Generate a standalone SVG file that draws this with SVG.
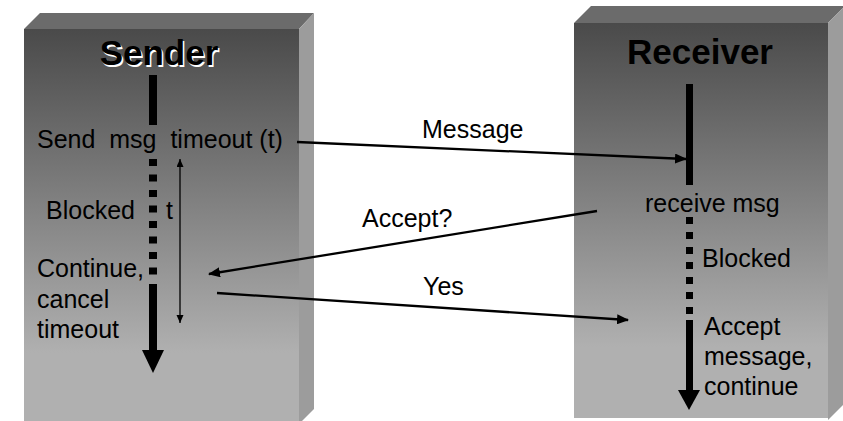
<svg xmlns="http://www.w3.org/2000/svg" width="843" height="421" viewBox="0 0 843 421">
  <defs>
    <linearGradient id="faceGrad" x1="0" y1="0" x2="0" y2="1">
      <stop offset="0" stop-color="#4a4a4a"/>
      <stop offset="0.82" stop-color="#b0b0b0"/>
      <stop offset="1" stop-color="#b0b0b0"/>
    </linearGradient>
    <marker id="head" markerUnits="userSpaceOnUse" markerWidth="12" markerHeight="10" refX="11" refY="5" orient="auto">
      <path d="M0,0 L12,5 L0,10 Z" fill="#000"/>
    </marker>
    <marker id="smallHead" markerUnits="userSpaceOnUse" markerWidth="8" markerHeight="8" refX="8" refY="3.5" orient="auto-start-reverse">
      <path d="M0,0 L8,3.5 L0,7 Z" fill="#000"/>
    </marker>
  </defs>
  <style>
    .top { fill: #6b6b6b; }
    .side { fill: #9c9c9c; }
    .face { fill: url(#faceGrad); }
    .title { font-family: "Liberation Sans", Arial, sans-serif; font-size: 35px; font-weight: bold; fill: #000; text-anchor: middle; }
    .lbl { font-family: "Liberation Sans", Arial, sans-serif; font-size: 25px; fill: #000; }
    .msg { stroke: #000; fill: none; stroke-width: 2.3; }
    .bar { fill: #000; }
  </style>

  <rect width="843" height="421" fill="#fff"/>

  <!-- Sender process block -->
  <g id="sender">
    <polygon class="top" points="24,29 40,13 314,13 299,29"/>
    <polygon class="side" points="299,29 314,13 314,409 299,424"/>
    <rect class="face" x="24" y="29" width="275" height="395"/>
    <text class="title" x="160.5" y="66.5" fill="#fff" style="fill:#fff">Sender</text>
    <text class="title" x="159" y="65">Sender</text>
    <!-- timeline: running, blocked (dotted), running -->
    <rect class="bar" x="149" y="75" width="8" height="50"/>
    <g class="bar">
      <rect x="149" y="159" width="8" height="7"/>
      <rect x="149" y="174.5" width="8" height="7"/>
      <rect x="149" y="190" width="8" height="7"/>
      <rect x="149" y="205.5" width="8" height="7"/>
      <rect x="149" y="221" width="8" height="7"/>
      <rect x="149" y="236.5" width="8" height="7"/>
      <rect x="149" y="252" width="8" height="7"/>
      <rect x="149" y="267.5" width="8" height="7"/>
    </g>
    <rect class="bar" x="149" y="284" width="8" height="67"/>
    <polygon class="bar" points="142,350 164,350 153,373"/>
    <!-- timeout span -->
    <line x1="180" y1="159" x2="180" y2="323" stroke="#000" stroke-width="1.3" marker-start="url(#smallHead)" marker-end="url(#smallHead)"/>
    <text class="lbl" x="37" y="148" xml:space="preserve">Send  msg  timeout (t)</text>
    <text class="lbl" x="46" y="219">Blocked</text>
    <text class="lbl" x="166" y="219">t</text>
    <text class="lbl" x="37" y="277">Continue,</text>
    <text class="lbl" x="37" y="308">cancel</text>
    <text class="lbl" x="37" y="338">timeout</text>
  </g>

  <!-- Receiver process block -->
  <g id="receiver">
    <polygon class="top" points="574,23 591,6 845,6 828,23"/>
    <polygon class="side" points="828,23 845,6 845,403 828,420"/>
    <rect class="face" x="574" y="23" width="254" height="395"/>
    <text class="title" x="700" y="64">Receiver</text>
    <rect class="bar" x="686" y="84" width="7" height="101"/>
    <g class="bar">
      <rect x="686" y="217" width="7" height="7"/>
      <rect x="686" y="232" width="7" height="7"/>
      <rect x="686" y="247" width="7" height="7"/>
      <rect x="686" y="262" width="7" height="7"/>
      <rect x="686" y="277" width="7" height="7"/>
      <rect x="686" y="292" width="7" height="7"/>
      <rect x="686" y="307" width="7" height="7"/>
    </g>
    <rect class="bar" x="686" y="320" width="7" height="71"/>
    <polygon class="bar" points="678,390 700,390 689,410"/>
    <text class="lbl" x="645" y="212">receive msg</text>
    <text class="lbl" x="702" y="267">Blocked</text>
    <text class="lbl" x="704" y="335">Accept</text>
    <text class="lbl" x="704" y="365">message,</text>
    <text class="lbl" x="704" y="395">continue</text>
  </g>

  <!-- Messages exchanged between the two processes -->
  <g id="connectors">
    <line class="msg" x1="297" y1="142" x2="686" y2="159" marker-end="url(#head)"/>
    <line class="msg" x1="597" y1="211" x2="209" y2="274" stroke-width="2.6" marker-end="url(#head)"/>
    <line class="msg" x1="217" y1="293" x2="628" y2="320" stroke-width="2.6" marker-end="url(#head)"/>
    <text class="lbl" x="422" y="138">Message</text>
    <text class="lbl" x="362" y="227">Accept?</text>
    <text class="lbl" x="423" y="295">Yes</text>
  </g>
</svg>
